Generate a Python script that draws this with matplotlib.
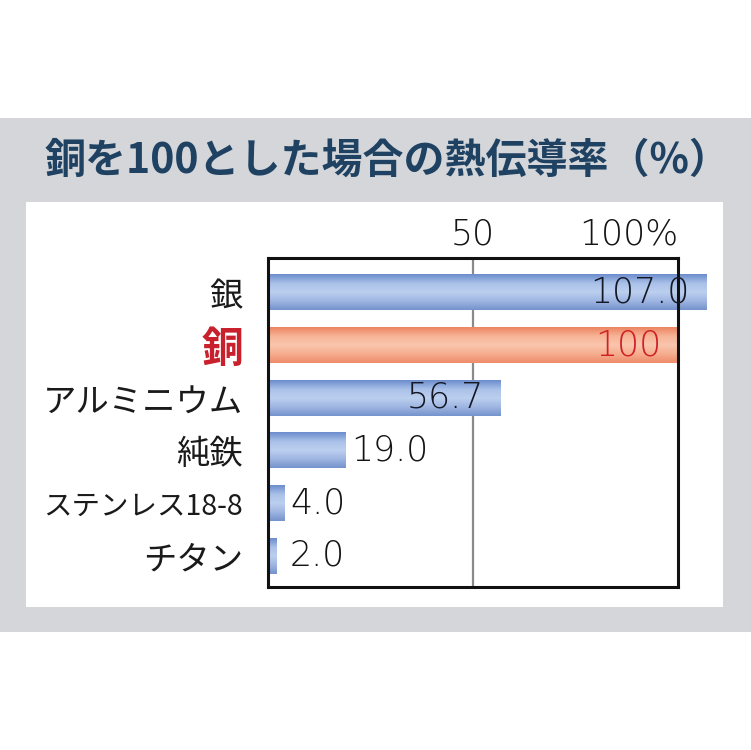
import numpy as np
import matplotlib.pyplot as plt
from matplotlib.colors import LinearSegmentedColormap
from matplotlib.patches import Rectangle

# データ
materials = ["銀", "銅", "アルミニウム", "純鉄", "ステンレス18-8", "チタン"]
values = [107.0, 100, 56.7, 19.0, 4.0, 2.0]
value_labels = ["107.0", "100", "56.7", "19.0", "4.0", "2.0"]
tick_values = [50, 100]
tick_labels = ["50", "100%"]
title = "銅を100とした場合の熱伝導率（%）"

jp_font = ["Noto Sans CJK JP", "DejaVu Sans"]

# グラデーション用カラーマップ
blue_cmap = LinearSegmentedColormap.from_list(
    "blue_bar", ["#6c8dcc", "#a9c0e8", "#bcd0ef", "#9fb6e2", "#7593cd"])
orange_cmap = LinearSegmentedColormap.from_list(
    "orange_bar", ["#ec8562", "#f7b497", "#fac6ae", "#f6ad8f", "#ee8c6a"])

fig = plt.figure(figsize=(7.51, 7.5), dpi=100)
fig.patch.set_facecolor("white")

# 背景のグレー帯と白いボックス
fig.patches.append(Rectangle((0, 1 - 632 / 750), 1, (632 - 118) / 750,
                             transform=fig.transFigure, facecolor="#d4d6da",
                             edgecolor="none", zorder=0))
fig.patches.append(Rectangle((26 / 751, 1 - 607 / 750), (723 - 26) / 751, (607 - 202) / 750,
                             transform=fig.transFigure, facecolor="white",
                             edgecolor="none", zorder=1))

fig.text(388 / 751, 1 - 161 / 750, title, ha="center", va="center",
         fontsize=29.5, fontweight="bold", color="#1f4262", family=jp_font)

ax = fig.add_axes([268 / 751, 1 - 587 / 750, 410 / 751, 329 / 750])
ax.set_zorder(5)
ax.patch.set_alpha(0)

num_font = dict(family="DejaVu Sans", fontweight="light", fontsize=25)

bar_h = 0.67
grad = np.linspace(0, 1, 64).reshape(-1, 1)
for i, (name, v) in enumerate(zip(materials, values)):
    cmap = orange_cmap if name == "銅" else blue_cmap
    ax.imshow(grad, cmap=cmap, aspect="auto", interpolation="bicubic",
              extent=[0, v, i + bar_h / 2, i - bar_h / 2], zorder=2, clip_on=False)
    if v >= 50:
        color = "#d01f26" if name == "銅" else "#141824"
        ax.annotate(value_labels[i], (v, i), xytext=(-12, 0), textcoords="offset points",
                    ha="right", va="center", color=color, zorder=4,
                    annotation_clip=False, **num_font)
    else:
        ax.annotate(value_labels[i], (max(v, 4.0), i), xytext=(4, 0), textcoords="offset points",
                    ha="left", va="center", color="#141414", zorder=4,
                    annotation_clip=False, **num_font)

ax.axvline(50, color="#8a8a8a", lw=1.6, zorder=1)
ax.set_xlim(0, 100)
ax.set_ylim(5.59, -0.655)

for s in ax.spines.values():
    s.set_color("#111111")
    s.set_linewidth(2.2)
    s.set_zorder(3)

ax.xaxis.tick_top()
ax.set_xticks(tick_values)
ax.set_xticklabels(tick_labels, color="#141414", **num_font)
ax.get_xticklabels()[1].set_ha("right")
ax.tick_params(axis="x", length=0, pad=5)

ax.set_yticks(range(len(materials)))
ax.set_yticklabels(materials, family=jp_font)
ax.tick_params(axis="y", length=0, pad=18)
for lbl in ax.get_yticklabels():
    t = lbl.get_text()
    if t == "銅":
        lbl.set_fontsize(30)
        lbl.set_fontweight("bold")
        lbl.set_color("#c8202c")
    elif t == "ステンレス18-8":
        lbl.set_fontsize(20.5)
        lbl.set_color("#1a1a1a")
    else:
        lbl.set_fontsize(24)
        lbl.set_color("#1a1a1a")

fig.savefig("out.png", dpi=100)
